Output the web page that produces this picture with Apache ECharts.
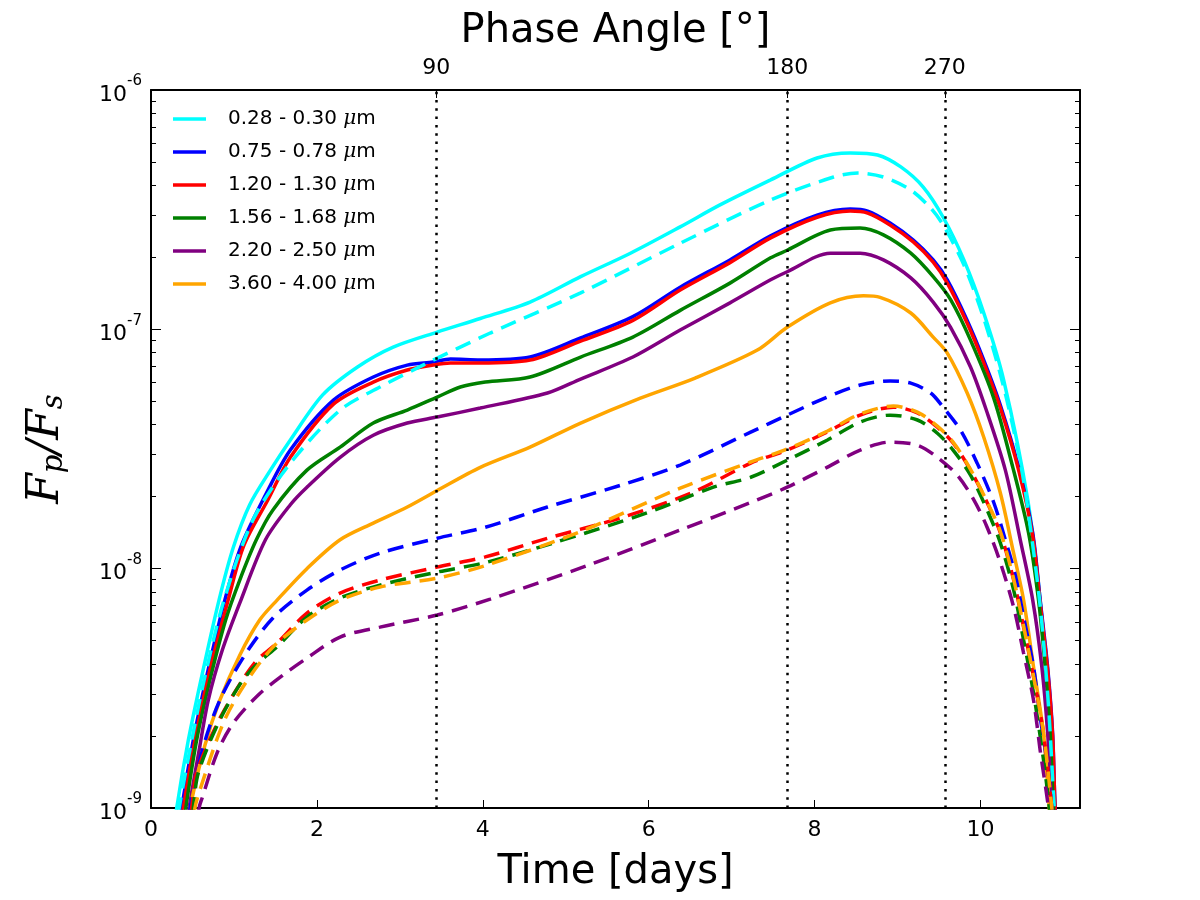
<!DOCTYPE html>
<html><head><meta charset="utf-8">
<script src="https://cdn.jsdelivr.net/npm/echarts@6/dist/echarts.min.js"></script>
<style>html,body{margin:0;padding:0;background:#fff}#c{width:1200px;height:900px}</style>
</head><body><div id="c"></div><script>
// ---- data: [time in days, Fp/Fs] ----
const bandNames = ['0.28 - 0.30 μm','0.75 - 0.78 μm','1.20 - 1.30 μm','1.56 - 1.68 μm','2.20 - 2.50 μm','3.60 - 4.00 μm'];
const bandColors = ['#00ffff','#0000ff','#ff0000','#008000','#800080','#ffa500'];

const cyanSolid = [[0.27,7.5e-10],[0.31,1.0e-9],[0.45,1.92e-9],[0.62,3.66e-9],[0.82,7.39e-9],[0.99,1.22e-8],[1.19,1.85e-8],[1.44,2.58e-8],[1.68,3.45e-8],[2.07,5.32e-8],[2.49,6.96e-8],[2.92,8.43e-8],[3.45,9.74e-8],[3.97,1.11e-7],[4.57,1.30e-7],[5.18,1.66e-7],[5.78,2.08e-7],[6.38,2.68e-7],[6.86,3.31e-7],[7.47,4.21e-7],[8.03,5.20e-7],[8.43,5.46e-7],[8.76,5.35e-7],[9.04,4.77e-7],[9.31,3.93e-7],[9.55,2.94e-7],[9.80,1.95e-7],[10.04,1.17e-7],[10.28,6.14e-8],[10.57,1.94e-8],[10.72,7.39e-9],[10.82,2.82e-9],[10.90,1.0e-9],[10.93,7.5e-10]];
const blueSolid = [[0.33,7.5e-10],[0.37,1.0e-9],[0.51,1.92e-9],[0.68,3.66e-9],[0.89,7.39e-9],[1.09,1.25e-8],[1.38,2.03e-8],[1.68,3.13e-8],[2.20,5.06e-8],[2.68,6.32e-8],[3.09,7.09e-8],[3.40,7.30e-8],[3.61,7.51e-8],[3.97,7.44e-8],[4.57,7.66e-8],[5.18,9.20e-8],[5.81,1.13e-7],[6.38,1.50e-7],[6.98,1.95e-7],[7.47,2.46e-7],[8.03,3.00e-7],[8.43,3.18e-7],[8.64,3.12e-7],[8.91,2.78e-7],[9.19,2.36e-7],[9.43,1.95e-7],[9.60,1.61e-7],[9.84,1.09e-7],[10.04,7.44e-8],[10.24,4.82e-8],[10.46,2.65e-8],[10.63,1.41e-8],[10.72,7.39e-9],[10.81,3.88e-9],[10.87,2.05e-9],[10.90,1.0e-9],[10.93,7.5e-10]];
const redSolid = [[0.35,7.5e-10],[0.39,1.0e-9],[0.53,1.92e-9],[0.70,3.66e-9],[0.93,7.39e-9],[1.12,1.25e-8],[1.41,1.94e-8],[1.68,2.92e-8],[2.20,4.87e-8],[2.68,6.02e-8],[3.09,6.76e-8],[3.40,7.09e-8],[3.61,7.23e-8],[3.97,7.23e-8],[4.57,7.44e-8],[5.18,8.93e-8],[5.81,1.09e-7],[6.38,1.46e-7],[6.98,1.90e-7],[7.47,2.41e-7],[8.03,2.94e-7],[8.43,3.12e-7],[8.64,3.06e-7],[8.91,2.73e-7],[9.19,2.32e-7],[9.43,1.91e-7],[9.60,1.56e-7],[9.84,1.06e-7],[10.04,7.23e-8],[10.24,4.69e-8],[10.46,2.58e-8],[10.63,1.37e-8],[10.72,7.18e-9],[10.81,3.77e-9],[10.87,2.0e-9],[10.90,1.0e-9],[10.93,7.5e-10]];
const greenSolid = [[0.38,7.5e-10],[0.42,1.0e-9],[0.55,1.92e-9],[0.71,3.42e-9],[0.90,6.10e-9],[1.07,8.96e-9],[1.27,1.32e-8],[1.47,1.76e-8],[1.88,2.58e-8],[2.28,3.22e-8],[2.68,4.06e-8],[3.09,4.60e-8],[3.45,5.21e-8],[3.73,5.74e-8],[4.03,6.02e-8],[4.57,6.32e-8],[5.18,7.66e-8],[5.81,9.28e-8],[6.38,1.20e-7],[6.98,1.56e-7],[7.47,1.99e-7],[7.67,2.14e-7],[8.19,2.60e-7],[8.55,2.65e-7],[8.83,2.48e-7],[9.16,2.08e-7],[9.43,1.66e-7],[9.64,1.33e-7],[9.88,9.01e-8],[10.16,5.16e-8],[10.39,2.65e-8],[10.58,1.41e-8],[10.70,7.39e-9],[10.78,3.88e-9],[10.84,2.05e-9],[10.88,1.0e-9],[10.91,7.5e-10]];
const purpleSolid = [[0.42,7.5e-10],[0.46,1.0e-9],[0.58,1.74e-9],[0.69,2.82e-9],[0.86,4.57e-9],[1.07,7.18e-9],[1.38,1.32e-8],[1.68,1.85e-8],[1.88,2.19e-8],[2.28,2.92e-8],[2.68,3.61e-8],[3.09,4.06e-8],[3.45,4.30e-8],[3.97,4.69e-8],[4.78,5.42e-8],[5.18,6.20e-8],[5.81,7.66e-8],[6.38,9.93e-8],[6.98,1.29e-7],[7.47,1.61e-7],[7.67,1.74e-7],[8.19,2.08e-7],[8.55,2.08e-7],[8.83,1.95e-7],[9.16,1.64e-7],[9.43,1.30e-7],[9.64,1.02e-7],[9.88,6.96e-8],[10.07,4.60e-8],[10.30,2.58e-8],[10.48,1.32e-8],[10.63,7.39e-9],[10.74,3.88e-9],[10.81,2.05e-9],[10.86,1.0e-9],[10.89,7.5e-10]];
const orangeSolid = [[0.43,7.5e-10],[0.47,1.0e-9],[0.65,1.83e-9],[0.83,2.82e-9],[1.07,4.35e-9],[1.31,6.10e-9],[1.52,7.39e-9],[1.88,1.0e-8],[2.28,1.32e-8],[2.68,1.55e-8],[3.09,1.81e-8],[3.45,2.12e-8],[3.97,2.65e-8],[4.57,3.22e-8],[5.18,4.06e-8],[5.90,5.16e-8],[6.56,6.26e-8],[7.31,8.19e-8],[7.67,1.02e-7],[8.19,1.29e-7],[8.59,1.38e-7],[8.79,1.36e-7],[9.16,1.17e-7],[9.43,9.28e-8],[9.60,7.96e-8],[9.84,5.42e-8],[10.04,3.54e-8],[10.24,2.07e-8],[10.40,1.16e-8],[10.52,7.39e-9],[10.64,3.88e-9],[10.76,2.05e-9],[10.83,1.0e-9],[10.86,7.5e-10]];

const cyanDashed = [[0.30,7.5e-10],[0.34,1.0e-9],[0.48,1.83e-9],[0.64,3.42e-9],[0.88,7.39e-9],[1.23,1.60e-8],[1.68,2.76e-8],[2.28,4.60e-8],[2.76,5.74e-8],[3.28,7.09e-8],[4.09,9.65e-8],[5.18,1.42e-7],[6.38,2.29e-7],[7.47,3.47e-7],[8.23,4.33e-7],[8.52,4.50e-7],[8.83,4.33e-7],[9.16,3.82e-7],[9.40,3.21e-7],[9.55,2.73e-7],[9.80,1.86e-7],[10.04,1.11e-7],[10.28,5.74e-8],[10.48,2.79e-8],[10.57,1.79e-8],[10.72,6.98e-9],[10.82,2.67e-9],[10.89,1.0e-9],[10.92,7.5e-10]];
const blueDashed = [[0.43,7.5e-10],[0.47,1.0e-9],[0.63,1.80e-9],[0.83,2.82e-9],[1.13,4.35e-9],[1.47,6.22e-9],[1.88,8.14e-9],[2.28,9.87e-9],[2.76,1.16e-8],[3.45,1.34e-8],[4.03,1.49e-8],[4.78,1.81e-8],[5.66,2.23e-8],[6.38,2.71e-8],[7.23,3.72e-8],[7.67,4.38e-8],[8.15,5.21e-8],[8.55,5.85e-8],[8.91,6.08e-8],[9.16,5.96e-8],[9.40,5.42e-8],[9.55,4.73e-8],[9.76,3.79e-8],[9.96,2.76e-8],[10.16,1.89e-8],[10.30,1.32e-8],[10.42,9.40e-9],[10.52,6.28e-9],[10.64,3.88e-9],[10.72,2.40e-9],[10.81,1.48e-9],[10.86,1.0e-9],[10.89,7.5e-10]];
const redDashed = [[0.45,7.5e-10],[0.49,1.0e-9],[0.55,1.40e-9],[0.80,2.26e-9],[1.07,3.29e-9],[1.28,4.15e-9],[1.52,4.89e-9],[1.88,6.52e-9],[2.28,7.91e-9],[2.76,8.96e-9],[3.45,1.015e-8],[4.03,1.12e-8],[4.78,1.34e-8],[5.69,1.64e-8],[6.54,2.09e-8],[7.23,2.76e-8],[7.67,3.13e-8],[8.15,3.72e-8],[8.55,4.38e-8],[8.95,4.73e-8],[9.24,4.47e-8],[9.48,3.90e-8],[9.67,3.35e-8],[9.88,2.58e-8],[10.08,1.89e-8],[10.24,1.41e-8],[10.40,8.96e-9],[10.52,5.70e-9],[10.64,3.52e-9],[10.76,2.05e-9],[10.86,1.0e-9],[10.89,7.5e-10]];
const greenDashed = [[0.47,7.5e-10],[0.51,1.0e-9],[0.57,1.40e-9],[0.81,2.26e-9],[1.09,3.36e-9],[1.29,4.03e-9],[1.53,4.75e-9],[1.88,6.28e-9],[2.28,7.54e-9],[2.76,8.54e-9],[3.45,9.68e-9],[4.03,1.06e-8],[4.85,1.28e-8],[5.98,1.71e-8],[6.78,2.19e-8],[7.23,2.41e-8],[7.67,2.84e-8],[8.15,3.44e-8],[8.55,4.10e-8],[8.91,4.38e-8],[9.24,4.18e-8],[9.48,3.68e-8],[9.67,3.13e-8],[9.88,2.46e-8],[10.08,1.76e-8],[10.24,1.28e-8],[10.40,8.14e-9],[10.52,5.03e-9],[10.64,3.02e-9],[10.76,1.59e-9],[10.83,1.0e-9],[10.86,7.5e-10]];
const purpleDashed = [[0.55,7.5e-10],[0.58,1.0e-9],[0.62,1.11e-9],[0.80,1.71e-9],[0.99,2.26e-9],[1.29,2.96e-9],[1.59,3.59e-9],[1.88,4.23e-9],[2.28,5.18e-9],[2.76,5.70e-9],[3.45,6.40e-9],[4.09,7.46e-9],[5.26,1.03e-8],[6.38,1.45e-8],[7.23,1.89e-8],[7.67,2.19e-8],[8.15,2.65e-8],[8.55,3.13e-8],[8.91,3.38e-8],[9.24,3.28e-8],[9.48,2.92e-8],[9.72,2.46e-8],[9.92,1.94e-8],[10.08,1.49e-8],[10.24,1.06e-8],[10.40,6.91e-9],[10.52,4.44e-9],[10.64,2.82e-9],[10.72,1.74e-9],[10.82,1.0e-9],[10.85,7.5e-10]];
const orangeDashed = [[0.49,7.5e-10],[0.53,1.0e-9],[0.59,1.19e-9],[0.87,2.26e-9],[1.13,3.29e-9],[1.47,4.70e-9],[1.88,6.10e-9],[2.28,7.39e-9],[2.76,8.38e-9],[3.45,9.13e-9],[4.03,1.03e-8],[5.18,1.43e-8],[6.38,2.17e-8],[7.23,2.79e-8],[7.67,3.16e-8],[8.15,3.75e-8],[8.55,4.43e-8],[8.95,4.78e-8],[9.24,4.51e-8],[9.48,3.94e-8],[9.67,3.38e-8],[9.88,2.60e-8],[10.08,1.90e-8],[10.24,1.43e-8],[10.40,9.05e-9],[10.52,5.75e-9],[10.64,3.55e-9],[10.76,2.07e-9],[10.86,1.0e-9],[10.89,7.5e-10]];

// ---- ticks ----
const timeTicks = [0, 2, 4, 6, 8, 10];
const phaseTickDays = [3.44, 7.67, 9.57];
const phaseTickLabels = ['90', '180', '270'];

const solids = [cyanSolid, blueSolid, redSolid, greenSolid, purpleSolid, orangeSolid];
const dashes = [cyanDashed, blueDashed, redDashed, greenDashed, purpleDashed, orangeDashed];

const minorExps = [];
for (let d = -9; d < -6; d++) for (let k = 2; k <= 9; k++) minorExps.push(d + Math.log10(k));

const FONT = 'DejaVu Sans';
const black = '#000';

const series = [];
solids.forEach((data, i) => series.push({
  name: bandNames[i], type: 'line', data, xAxisIndex: 0, yAxisIndex: 0,
  showSymbol: false, symbol: 'none', smooth: 0.3,
  lineStyle: { color: bandColors[i], width: 3.5 }, itemStyle: { color: bandColors[i] }
}));
dashes.forEach((data, i) => series.push({
  name: bandNames[i] + ' (dashed)', type: 'line', data, xAxisIndex: 0, yAxisIndex: 0,
  showSymbol: false, symbol: 'none', smooth: 0.3,
  lineStyle: { color: bandColors[i], width: 3.5, type: [16, 9] }, itemStyle: { color: bandColors[i] }
}));
series[series.length - 1].markLine = {
  silent: true, symbol: 'none', animation: false,
  label: { show: false },
  lineStyle: { color: black, width: 2.5, type: [2.5, 5.8] },
  data: phaseTickDays.map(d => ({ xAxis: d }))
};

const yLabelRich = {
  b: { fontFamily: FONT, fontSize: 22, color: black, lineHeight: 32, verticalAlign: 'bottom' },
  s: { fontFamily: FONT, fontSize: 15, color: black, lineHeight: 32, verticalAlign: 'top' }
};

const chart = echarts.init(document.getElementById('c'));
chart.setOption({
  animation: false,
  backgroundColor: '#fff',
  grid: { left: 151, top: 90, width: 929, height: 718, containLabel: false, outerBoundsMode: 'none' },
  legend: {
    data: bandNames, orient: 'vertical', left: 173, top: 109, padding: 0,
    icon: 'rect', itemWidth: 33, itemHeight: 3.5, itemGap: 13,
    formatter: n => n.replace('μm', '{mu|μ}m'),
    textStyle: { fontFamily: FONT, fontSize: 20, color: black, lineHeight: 20, padding: [0, 0, 0, 17],
      rich: { mu: { fontFamily: 'DejaVu Serif', fontStyle: 'italic', fontSize: 20, color: black } } }
  },
  xAxis: [{
    type: 'value', position: 'bottom', min: 0, max: 11.2,
    axisLine: { show: true, onZero: false, lineStyle: { color: black, width: 2 } },
    axisTick: { show: true, inside: true, length: 8, customValues: timeTicks, lineStyle: { color: black, width: 1 } },
    axisLabel: { customValues: timeTicks, margin: 11, fontFamily: FONT, fontSize: 22, color: black },
    splitLine: { show: false },
    name: 'Time [days]', nameLocation: 'middle', nameGap: 45,
    nameTextStyle: { fontFamily: FONT, fontSize: 40, color: black }
  }, {
    type: 'value', position: 'top', min: 0, max: 11.2,
    axisLine: { show: true, onZero: false, lineStyle: { color: black, width: 2 } },
    axisTick: { show: true, inside: true, length: 8, customValues: phaseTickDays, lineStyle: { color: black, width: 1 } },
    axisLabel: { customValues: phaseTickDays, margin: 11, fontFamily: FONT, fontSize: 22, color: black,
      formatter: v => { let b = 0; phaseTickDays.forEach((d, i) => { if (Math.abs(d - v) < Math.abs(phaseTickDays[b] - v)) b = i; }); return phaseTickLabels[b]; } },
    splitLine: { show: false },
    name: 'Phase Angle [°]', nameLocation: 'middle', nameGap: 36,
    nameTextStyle: { fontFamily: FONT, fontSize: 40, color: black }
  }],
  yAxis: [{
    type: 'log', logBase: 10, position: 'left', min: 1e-9, max: 1e-6,
    axisLine: { show: true, onZero: false, lineStyle: { color: black, width: 2 } },
    axisTick: { show: true, inside: true, length: 10, lineStyle: { color: black, width: 1 } },
    axisLabel: { margin: 9, formatter: v => '{b|10}{s|-' + Math.abs(Math.round(Math.log10(v))) + '}', rich: yLabelRich },
    splitLine: { show: false }, minorTick: { show: false },
    name: '{i|F}{sub|p}{i|/F}{sub|s}', nameLocation: 'middle', nameRotate: 90, nameGap: 82,
    nameTextStyle: { rich: {
      i: { fontFamily: 'DejaVu Serif', fontStyle: 'italic', fontSize: 44, color: black, lineHeight: 52, verticalAlign: 'bottom' },
      sub: { fontFamily: 'DejaVu Serif', fontStyle: 'italic', fontSize: 29, color: black, lineHeight: 40, verticalAlign: 'bottom' }
    } }
  }, {
    type: 'value', position: 'left', min: -9, max: -6,
    axisLine: { show: false, onZero: false },
    axisTick: { show: true, inside: true, length: 5, customValues: minorExps, lineStyle: { color: black, width: 1 } },
    axisLabel: { show: false }, splitLine: { show: false }
  }, {
    type: 'log', logBase: 10, position: 'right', min: 1e-9, max: 1e-6,
    axisLine: { show: true, onZero: false, lineStyle: { color: black, width: 2 } },
    axisTick: { show: true, inside: true, length: 10, lineStyle: { color: black, width: 1 } },
    axisLabel: { show: false }, splitLine: { show: false }
  }, {
    type: 'value', position: 'right', min: -9, max: -6,
    axisLine: { show: false, onZero: false },
    axisTick: { show: true, inside: true, length: 5, customValues: minorExps, lineStyle: { color: black, width: 1 } },
    axisLabel: { show: false }, splitLine: { show: false }
  }],
  series
});
</script></body></html>
